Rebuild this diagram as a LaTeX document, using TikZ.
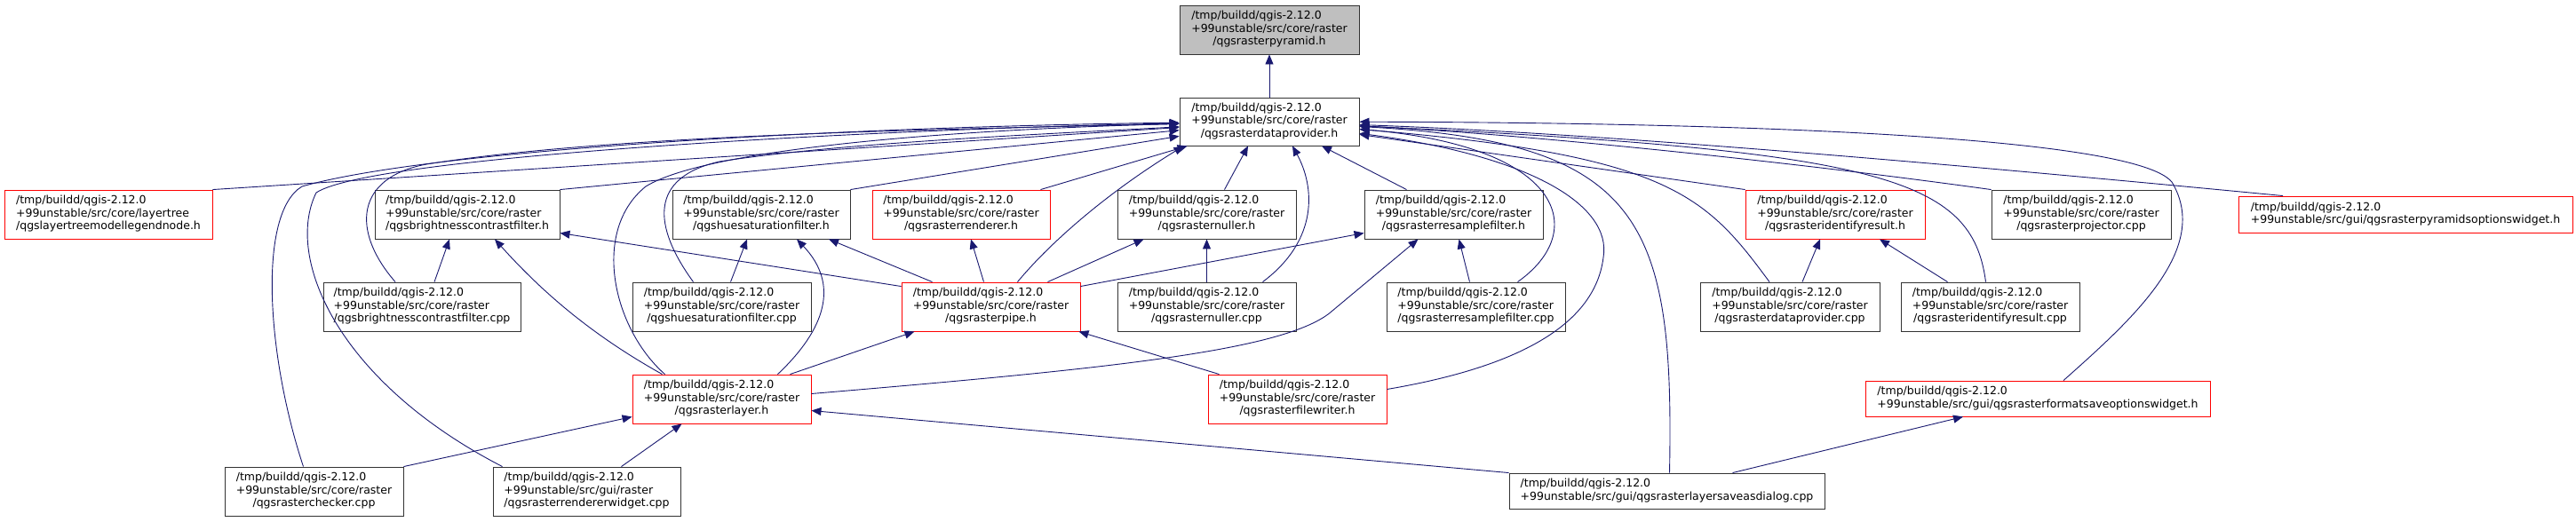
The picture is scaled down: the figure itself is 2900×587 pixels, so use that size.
\documentclass[tikz,border=0pt]{standalone}
\usepackage{fontspec}
\setmainfont{DejaVu Sans}
\usetikzlibrary{arrows.meta}

\definecolor{azulnoche}{HTML}{191970}
\definecolor{grisnodo}{HTML}{BFBFBF}
\newcommand{\ruta}[2]{\begin{tabular}{@{}l@{}}/tmp/buildd/qgis-2.12.0\\#1\\\multicolumn{1}{@{}c@{}}{#2}\end{tabular}}
\newcommand{\rutados}[1]{\begin{tabular}{@{}l@{}}/tmp/buildd/qgis-2.12.0\\#1\end{tabular}}

\begin{document}
\begin{tikzpicture}[x=1pt, y=-1pt, >={Triangle[length=11pt,width=9pt]},
    font=\fontsize{12.5}{14.5}\selectfont,
    file/.style={draw=black!80, fill=white, line width=0.9pt, inner xsep=5pt, inner ysep=0pt,
      minimum width=201pt, minimum height=55pt},
    rojo/.style={file, draw=red},
    edge/.style={->, draw=azulnoche, line width=0.9pt}]
  \path[use as bounding box, fill=white] (0,0) rectangle (2900,587);

  % --- fila 0 y 1: pyramid y dataprovider ---
  \node[file, fill=grisnodo, minimum width=202pt] (pyr) at (1429,33.5) {\ruta{+99unstable/src/core/raster}{/qgsrasterpyramid.h}};
  \node[file, minimum width=202pt, minimum height=54pt] (dp) at (1429,137) {\ruta{+99unstable/src/core/raster}{/qgsrasterdataprovider.h}};

  % --- fila 2 ---
  \node[rojo, minimum width=234pt] (ltn) at (122,241.5) {\ruta{+99unstable/src/core/layertree}{/qgslayertreemodellegendnode.h}};
  \node[file, minimum width=208pt] (bch) at (526,241.5) {\ruta{+99unstable/src/core/raster}{/qgsbrightnesscontrastfilter.h}};
  \node[file, minimum width=200pt] (hsh) at (857,241.5) {\ruta{+99unstable/src/core/raster}{/qgshuesaturationfilter.h}};
  \node[rojo, minimum width=200pt] (rrh) at (1082,241.5) {\ruta{+99unstable/src/core/raster}{/qgsrasterrenderer.h}};
  \node[file] (nuh) at (1358.5,241.5) {\ruta{+99unstable/src/core/raster}{/qgsrasternuller.h}};
  \node[file] (rsh) at (1636.5,241.5) {\ruta{+99unstable/src/core/raster}{/qgsrasterresamplefilter.h}};
  \node[rojo, minimum width=202pt] (irh) at (2066,241.5) {\ruta{+99unstable/src/core/raster}{/qgsrasteridentifyresult.h}};
  \node[file, minimum width=202pt] (prc) at (2343,241.5) {\ruta{+99unstable/src/core/raster}{/qgsrasterprojector.cpp}};
  \node[rojo, minimum width=376pt, minimum height=41pt] (pow) at (2708,241.5) {\rutados{+99unstable/src/gui/qgsrasterpyramidsoptionswidget.h}};

  % --- fila 3 ---
  \node[file, minimum width=222pt] (bcc) at (475,345.5) {\ruta{+99unstable/src/core/raster}{/qgsbrightnesscontrastfilter.cpp}};
  \node[file] (hsc) at (812.5,345.5) {\ruta{+99unstable/src/core/raster}{/qgshuesaturationfilter.cpp}};
  \node[rojo] (pip) at (1115.5,345.5) {\ruta{+99unstable/src/core/raster}{/qgsrasterpipe.h}};
  \node[file] (nuc) at (1358.5,345.5) {\ruta{+99unstable/src/core/raster}{/qgsrasternuller.cpp}};
  \node[file] (rsc) at (1661.5,345.5) {\ruta{+99unstable/src/core/raster}{/qgsrasterresamplefilter.cpp}};
  \node[file, minimum width=202pt] (dpc) at (2015,345.5) {\ruta{+99unstable/src/core/raster}{/qgsrasterdataprovider.cpp}};
  \node[file] (irc) at (2240.5,345.5) {\ruta{+99unstable/src/core/raster}{/qgsrasteridentifyresult.cpp}};

  % --- fila 4 ---
  \node[rojo] (lay) at (812.5,449.5) {\ruta{+99unstable/src/core/raster}{/qgsrasterlayer.h}};
  \node[rojo] (fw) at (1460.5,449.5) {\ruta{+99unstable/src/core/raster}{/qgsrasterfilewriter.h}};
  \node[rojo, minimum width=388pt, minimum height=40pt] (fso) at (2294,449) {\rutados{+99unstable/src/gui/qgsrasterformatsaveoptionswidget.h}};

  % --- fila 5 ---
  \node[file] (chk) at (353.5,553.5) {\ruta{+99unstable/src/core/raster}{/qgsrasterchecker.cpp}};
  \node[file, minimum width=211pt] (rwg) at (660.5,553.5) {\ruta{+99unstable/src/gui/raster}{/qgsrasterrendererwidget.cpp}};
  \node[file, minimum width=355pt, minimum height=40pt] (lsd) at (1876.5,553) {\rutados{+99unstable/src/gui/qgsrasterlayersaveasdialog.cpp}};

  % --- aristas hacia dataprovider ---
  \draw[edge] (dp) -- (pyr);
  \draw[edge] (ltn.north east) -- (dp);
  \draw[edge] (bch.north east) -- (dp);
  \draw[edge] (hsh.north east) -- (dp);
  \draw[edge] ([xshift=-11pt]rrh.north east) -- (dp);
  \draw[edge] ([xshift=20pt]nuh.north) -- ([xshift=-24pt]dp.south);
  \draw[edge] ([xshift=-53pt]rsh.north) -- ([xshift=59pt]dp.south);
  \draw[edge] (irh.north west) -- (dp);
  \draw[edge] (prc.north west) .. controls (2000,180) and (1700,150) .. (dp);
  \draw[edge] ([xshift=-138pt]pow.north) .. controls (2200,185) and (1800,150) .. (dp);
  \draw[edge] ([xshift=30pt]pip.north) .. controls (1185,270) and (1250,215) .. ([xshift=5pt]dp.south west);
  \draw[edge] ([xshift=63pt]nuc.north) .. controls (1485,270) and (1480,210) .. ([xshift=26pt]dp.south);
  \draw[edge] ([xshift=47pt]rsc.north) .. controls (1790,260) and (1760,165) .. (dp);
  \draw[edge] ([xshift=-23pt]dpc.north) .. controls (1920,220) and (1880,175) .. (dp);
  \draw[edge] ([xshift=-5pt]irc.north) .. controls (2220,200) and (2120,170) .. (dp);
  \draw[edge] ([xshift=-64pt]lay.north) .. controls (690,370) and (665,260) .. (727,210)
    .. controls (800,165) and (1100,145) .. (dp);
  \draw[edge] ([xshift=29pt]fso.north) .. controls (2400,360) and (2490,280) .. (2445,205)
    .. controls (2400,150) and (1900,138) .. (dp);
  \draw[edge] ([xshift=3pt]lsd.north) .. controls (1885,250) and (1850,160) .. (dp);
  \draw[edge] ([yshift=11pt]fw.east) .. controls (1700,415) and (1795,370) .. (1805,290)
    .. controls (1815,230) and (1720,175) .. (dp);
  \draw[edge] ([xshift=-12pt]chk.north) .. controls (300,400) and (290,240) .. (340,210)
    .. controls (500,165) and (1000,142) .. (dp);
  \draw[edge] ([xshift=11pt]rwg.north west) .. controls (380,430) and (320,290) .. (356,217)
    .. controls (420,175) and (1000,145) .. (dp);
  \draw[edge] ([xshift=-30pt]bcc.north) .. controls (395,260) and (400,200) .. (480,185)
    .. controls (700,150) and (1100,145) .. (dp);
  \draw[edge] ([xshift=-32pt]hsc.north) .. controls (735,255) and (730,200) .. (810,182)
    .. controls (950,160) and (1200,150) .. (dp);

  % --- resto de inclusiones ---
  \draw[edge] ([xshift=14pt]bcc.north) -- ([xshift=-20pt]bch.south);
  \draw[edge] ([xshift=-67pt]lay.north) .. controls (680,385) and (620,340) .. ([xshift=31pt]bch.south);
  \draw[edge] ([yshift=-5pt]pip.north west) -- ([yshift=-21pt]bch.east);
  \draw[edge] ([xshift=10pt]hsc.north) -- ([xshift=-16pt]hsh.south);
  \draw[edge] ([xshift=63pt]lay.north) .. controls (930,370) and (945,320) .. ([xshift=40pt]hsh.south);
  \draw[edge] ([xshift=-66pt]pip.north) -- ([xshift=76pt]hsh.south);
  \draw[edge] ([xshift=-8pt]pip.north) -- ([xshift=11pt]rrh.south);
  \draw[edge] ([xshift=64pt]pip.north) -- ([xshift=-71pt]nuh.south);
  \draw[edge] (nuc) -- (nuh);
  \draw[edge] ([yshift=-5pt]pip.north east) -- ([yshift=-21pt]rsh.west);
  \draw[edge] ([xshift=77pt]lay.north) -- ([xshift=-86pt]pip.south);
  \draw[edge] ([xshift=-88pt]fw.north) -- ([xshift=-2pt]pip.south east);
  \draw[edge] ([yshift=6pt]lay.east) .. controls (1250,415) and (1450,395) .. (1500,350)
    -- ([xshift=-40pt]rsh.south);
  \draw[edge] ([xshift=-7pt]rsc.north) -- ([xshift=6pt]rsh.south);
  \draw[edge] ([xshift=14pt]dpc.north) -- ([xshift=-17pt]irh.south);
  \draw[edge] ([xshift=-48pt]irc.north) -- ([xshift=50pt]irh.south);
  \draw[edge] (chk.north east) -- ([yshift=-20pt]lay.west);
  \draw[edge] ([xshift=39pt]rwg.north) -- ([xshift=-45pt]lay.south);
  \draw[edge] (lsd.north west) -- ([yshift=-13pt]lay.east);
  \draw[edge] ([xshift=74pt]lsd.north) -- ([xshift=-84pt]fso.south);
\end{tikzpicture}
\end{document}
